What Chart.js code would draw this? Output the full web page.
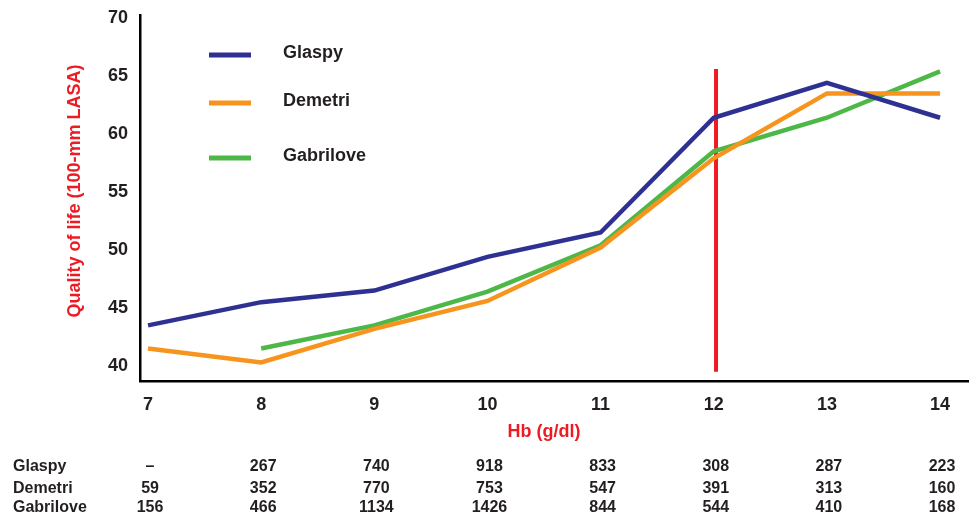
<!DOCTYPE html>
<html>
<head>
<meta charset="utf-8">
<script src="https://cdn.jsdelivr.net/npm/chart.js@4.4.1/dist/chart.umd.min.js"></script>
<style>
    html, body { margin: 0; padding: 0; background: #fff; }
    #wrap { width: 970px; height: 516px; position: relative; }
</style>
</head>
<body>
<div id="wrap"><canvas id="chart" width="970" height="516"></canvas></div>
<script>
const hbLevels = [7, 8, 9, 10, 11, 12, 13, 14];
const yTicks = [40, 45, 50, 55, 60, 65, 70];

const glaspyQol = [43.5, 45.5, 46.5, 49.4, 51.5, 61.4, 64.4, 61.4];
const demetriQol = [41.5, 40.3, 43.2, 45.6, 50.2, 57.9, 63.5, 63.5];
const gabriloveQol = [null, 41.5, 43.5, 46.4, 50.4, 58.5, 61.4, 65.4];

// vertical marker at Hb 12
const cutoffHb = 12.02;
const cutoffRange = [39.5, 65.6];

// patient counts printed under the axis
const tableNames = ['Glaspy', 'Demetri', 'Gabrilove'];
const glaspyN = ['–', '267', '740', '918', '833', '308', '287', '223'];
const demetriN = ['59', '352', '770', '753', '547', '391', '313', '160'];
const gabriloveN = ['156', '466', '1134', '1426', '844', '544', '410', '168'];

const BLUE = '#2e3192';
const ORANGE = '#f7941d';
const GREEN = '#4db848';
const RED = '#ed1c24';
const TEXT = '#231f20';
const FONT = '"Liberation Sans", Arial, sans-serif';

function toPoints(values) {
    return hbLevels.map((x, i) => ({ x: x, y: values[i] }));
}

const extras = {
    id: 'extras',
    afterDraw(chart) {
        const ctx = chart.ctx;
        const xs = chart.scales.x;
        ctx.save();

        // legend
        const legend = [['Glaspy', BLUE, 55], ['Demetri', ORANGE, 103], ['Gabrilove', GREEN, 158]];
        ctx.font = 'bold 18px ' + FONT;
        ctx.textBaseline = 'middle';
        ctx.textAlign = 'left';
        legend.forEach(([name, color, y]) => {
            ctx.strokeStyle = color;
            ctx.lineWidth = 5;
            ctx.beginPath();
            ctx.moveTo(209, y);
            ctx.lineTo(251, y);
            ctx.stroke();
            ctx.fillStyle = TEXT;
            ctx.fillText(name, 283, y - 2);
        });

        // axis titles
        ctx.fillStyle = RED;
        ctx.textAlign = 'center';
        ctx.font = 'bold 18px ' + FONT;
        ctx.fillText('Hb (g/dl)', 544, 432);
        ctx.save();
        ctx.translate(75, 191);
        ctx.rotate(-Math.PI / 2);
        ctx.fillText('Quality of life (100-mm LASA)', 0, 0);
        ctx.restore();

        // table of n
        const rows = [glaspyN, demetriN, gabriloveN];
        const rowY = [467, 489, 508];
        ctx.font = 'bold 16px ' + FONT;
        ctx.fillStyle = TEXT;
        rows.forEach((row, r) => {
            ctx.textAlign = 'left';
            ctx.fillText(tableNames[r], 13, rowY[r]);
            ctx.textAlign = 'center';
            row.forEach((v, i) => {
                ctx.fillText(v, xs.getPixelForValue(hbLevels[i]) + 2, rowY[r]);
            });
        });
        ctx.restore();
    }
};

const ctx = document.getElementById('chart').getContext('2d');
new Chart(ctx, {
    type: 'line',
    data: {
        datasets: [
            {
                label: 'Glaspy',
                data: toPoints(glaspyQol),
                borderColor: BLUE,
                borderWidth: 4.5,
                pointRadius: 0,
                tension: 0
            },
            {
                label: 'Demetri',
                data: toPoints(demetriQol),
                borderColor: ORANGE,
                borderWidth: 4.5,
                pointRadius: 0,
                tension: 0
            },
            {
                label: 'Gabrilove',
                data: toPoints(gabriloveQol),
                borderColor: GREEN,
                borderWidth: 4.5,
                pointRadius: 0,
                tension: 0
            },
            {
                label: 'cutoff',
                data: cutoffRange.map(y => ({ x: cutoffHb, y: y })),
                borderColor: RED,
                borderWidth: 4,
                pointRadius: 0,
                borderCapStyle: 'butt'
            }
        ]
    },
    options: {
        responsive: false,
        animation: false,
        layout: { padding: { top: 15, right: 2, left: 0, bottom: 0 } },
        plugins: {
            legend: { display: false },
            tooltip: { enabled: false }
        },
        scales: {
            x: {
                type: 'linear',
                min: 6.929,
                max: 14.247,
                afterBuildTicks: (scale) => { scale.ticks = hbLevels.map(v => ({ value: v })); },
                afterFit: (scale) => {
                    scale.height = 135;
                    scale.paddingLeft = 0;
                    scale.paddingRight = 0;
                },
                grid: { display: false },
                border: { display: true, color: '#000', width: 2.5 },
                ticks: {
                    color: TEXT,
                    padding: 5,
                    maxRotation: 0,
                    font: { family: FONT, size: 18, weight: 'bold' }
                }
            },
            y: {
                min: 38.7,
                max: 70.26,
                afterBuildTicks: (scale) => { scale.ticks = yTicks.map(v => ({ value: v })); },
                afterFit: (scale) => {
                    scale.width = 140;
                    scale.paddingTop = 0;
                    scale.paddingBottom = 0;
                },
                grid: { display: false, drawTicks: false },
                border: { display: true, color: '#000', width: 2.5 },
                ticks: {
                    color: TEXT,
                    padding: 12,
                    font: { family: FONT, size: 18, weight: 'bold' }
                }
            }
        }
    },
    plugins: [extras]
});
</script>
</body>
</html>
